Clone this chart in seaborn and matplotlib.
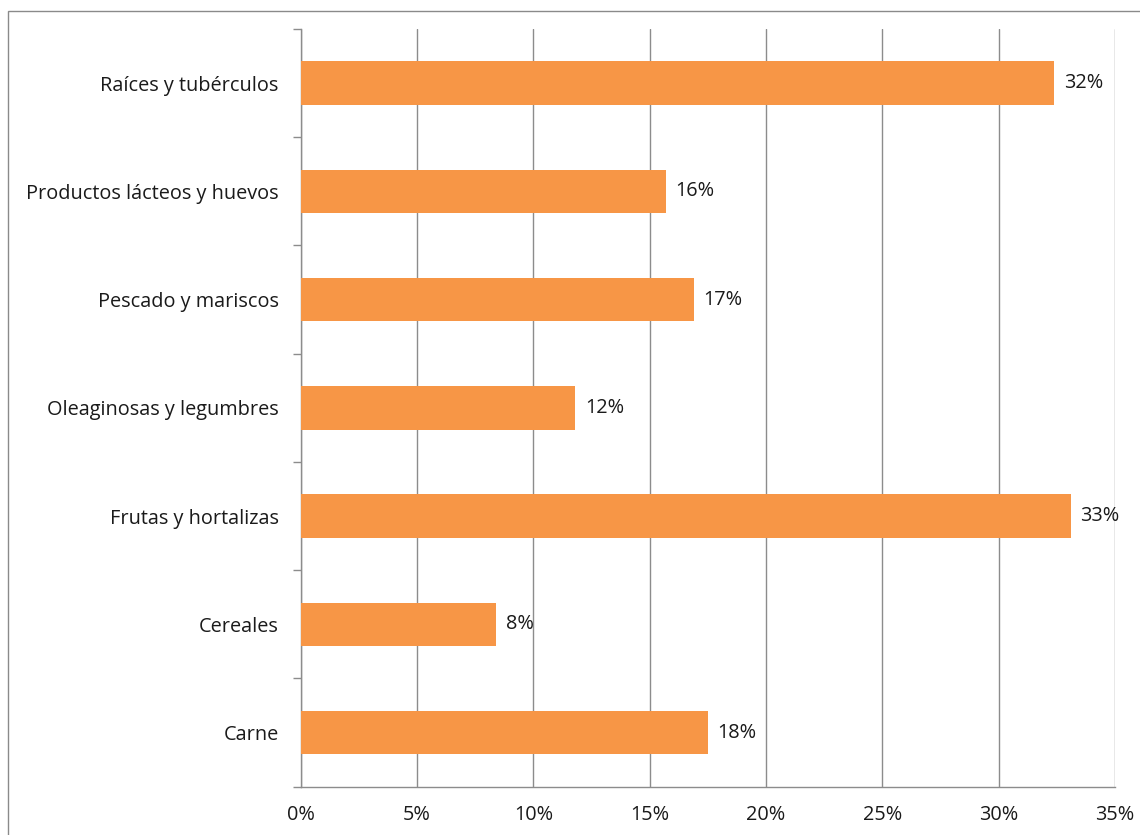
import matplotlib
matplotlib.use("Agg")
import matplotlib.pyplot as plt
import matplotlib.patches as mpatches
from matplotlib.ticker import FixedLocator, FuncFormatter
import seaborn as sns
import pandas as pd

categorias = [
    "Raíces y tubérculos",
    "Productos lácteos y huevos",
    "Pescado y mariscos",
    "Oleaginosas y legumbres",
    "Frutas y hortalizas",
    "Cereales",
    "Carne",
]
valores = [32.4, 15.7, 16.9, 11.8, 33.1, 8.4, 17.5]
etiquetas = ["32%", "16%", "17%", "12%", "33%", "8%", "18%"]
ticks_x = [0, 5, 10, 15, 20, 25, 30, 35]

sns.set_theme(style="white")
plt.rcParams["font.family"] = ["Open Sans", "DejaVu Sans"]

df = pd.DataFrame({"categoria": categorias, "valor": valores})

fig = plt.figure(figsize=(11.4, 8.35), dpi=100)
ax = fig.add_axes([0.2638, 0.0578, 0.978 - 0.2638, 0.9653 - 0.0578])

grid_col = "#8c8c8c"
text_col = "#1a1a1a"
fs = 14.3

sns.barplot(data=df, y="categoria", x="valor", order=categorias,
            color="#F79646", saturation=1, width=0.4, linewidth=0,
            ax=ax, zorder=3)

ax.set_xlim(0, 35)
ax.set_ylim(6.5, -0.5)
ax.set_xlabel("")
ax.set_ylabel("")

# vertical gridlines
ax.xaxis.set_major_locator(FixedLocator(ticks_x))
ax.xaxis.set_major_formatter(FuncFormatter(lambda v, p: f"{int(round(v))}%"))
ax.grid(axis="x", color=grid_col, linewidth=1.0, zorder=0)
ax.set_axisbelow(True)

# spines
for s in ["top", "right"]:
    ax.spines[s].set_visible(False)
for s in ["left", "bottom"]:
    ax.spines[s].set_color(grid_col)
    ax.spines[s].set_linewidth(1.0)

ax.tick_params(axis="x", which="major", direction="out", length=6,
               width=1.0, color=grid_col, labelsize=fs, labelcolor=text_col, pad=7)

# category boundary ticks on the y axis
ax.yaxis.set_minor_locator(FixedLocator([i - 0.5 for i in range(len(categorias) + 1)]))
ax.tick_params(axis="y", which="major", length=0, labelsize=fs,
               labelcolor=text_col, pad=16)
ax.tick_params(axis="y", which="minor", direction="out", length=6,
               width=1.0, color=grid_col, left=True)

# value labels
for i, (v, t) in enumerate(zip(valores, etiquetas)):
    ax.text(v + 0.42, i, t, va="center", ha="left", fontsize=fs, color=text_col)

# outer frame
fig.patches.append(mpatches.Rectangle((8 / 1140, -0.05), 1.2, 1 - 11 / 835 + 0.05,
                                      transform=fig.transFigure, fill=False,
                                      edgecolor="#8a8a8a", linewidth=1.0))

fig.savefig("out.png", dpi=100, facecolor="white")
